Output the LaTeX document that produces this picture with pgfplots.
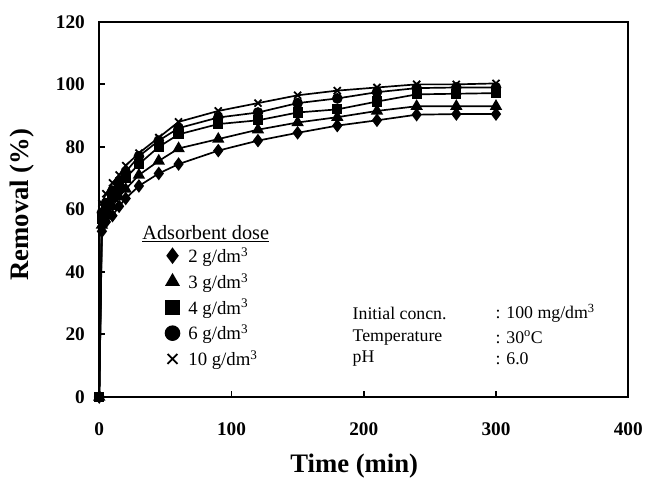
\documentclass[border=0pt]{standalone}
\usepackage{pgfplots}
\pgfplotsset{compat=1.18}
\usepackage{fontspec}
\setmainfont{Liberation Serif}

\pgfplotstableread{
t    d2    d3    d4    d6    d10
0    0     0     0     0     0
2    53    55    57    59    62
5    56    58    60    62    65
10   58    61    64    66    68.5
15   61    64    67    69    71
20   63.5  66.5  70    72    74
30   67.5  71    74.5  77    78
45   71.5  75.5  80    82    83
60   74.5  79.5  84    86    88
90   78.8  82.5  87.3  89.4  91.5
120  82    85.5  88.5  91    94
150  84.5  87.8  91    94    96.5
180  86.8  89.5  92    95.5  98
210  88.5  91.5  94.5  97.5  99
240  90.3  93    96.8  98.8  100
270  90.5  93    97    99    100
300  90.5  93    97.2  99    100.3
}\removal

\begin{document}
\begin{tikzpicture}
\begin{axis}[
    scale only axis,
    width=533bp, height=378bp,
    xmin=0, xmax=400, ymin=0, ymax=120,
    xtick={0,100,...,400}, ytick={0,20,...,120},
    tick align=inside, xtick pos=left, ytick pos=left,
    major tick length=6bp,
    axis line style={line width=2.4bp},
    every tick/.style={line width=2bp, black},
    xlabel={Time (min)}, ylabel={Removal (\%)},
    label style={font=\bfseries\fontsize{27}{29}\selectfont},
    xlabel style={at={(axis description cs:0.482,-0.183)}, anchor=center},
    ylabel style={at={(axis description cs:-0.145,0.513)}, anchor=center},
    ticklabel style={font=\bfseries\fontsize{19.5}{21}\selectfont},
    /pgf/number format/assume math mode=true,
    xticklabel style={yshift=-22bp}, yticklabel style={xshift=-11bp},
    legend style={at={(axis cs:50,48.5)}, anchor=north west, draw=none, fill=none,
        inner sep=0pt, font=\fontsize{19}{22}\selectfont, row sep=5.5bp, column sep=7bp},
    legend cell align=left,
    legend image code/.code={\draw[#1, mark size=7bp] plot[only marks] coordinates {(0.2cm,0cm)};},
    every axis plot/.append style={black, line width=1.7bp},
]
\addplot[mark=diamond*, mark size=5.5bp] table[x=t, y=d2] {\removal};
\addlegendentry{2 g/dm\textsuperscript{3}}
\addplot[mark=triangle*, mark size=5.5bp] table[x=t, y=d3] {\removal};
\addlegendentry{3 g/dm\textsuperscript{3}}
\addplot[mark=square*, mark size=4.3bp] table[x=t, y=d4] {\removal};
\addlegendentry{4 g/dm\textsuperscript{3}}
\addplot[mark=*, mark size=4.5bp] table[x=t, y=d6] {\removal};
\addlegendentry{6 g/dm\textsuperscript{3}}
\addplot[mark=x, mark size=5bp, mark options={line width=1.8bp}] table[x=t, y=d10] {\removal};
\addlegendentry{10 g/dm\textsuperscript{3}}

\node[anchor=west, font=\fontsize{20.5}{22}\selectfont] at (axis cs:30,52.2) {\underline{Adsorbent dose}};
\node[anchor=west, font=\fontsize{18}{20}\selectfont] at (axis cs:189,26.7) {Initial concn.};
\node[anchor=west, font=\fontsize{18}{20}\selectfont] at (axis cs:189,19.1) {Temperature};
\node[anchor=west, font=\fontsize{18}{20}\selectfont] at (axis cs:189,12.4) {pH};
\node[anchor=west, font=\fontsize{18}{20}\selectfont] at (axis cs:297,26.7) {: 100 mg/dm\textsuperscript{3}};
\node[anchor=west, font=\fontsize{18}{20}\selectfont] at (axis cs:297,19.1) {: 30\textsuperscript{o}C};
\node[anchor=west, font=\fontsize{18}{20}\selectfont] at (axis cs:297,12.4) {: 6.0};
\coordinate (sw) at (axis cs:0,0);
\coordinate (ne) at (axis cs:400,120);
\end{axis}
\path (sw) ++(-100bp,-78bp);
\path (ne) ++(13bp,22bp);
\end{tikzpicture}
\end{document}
